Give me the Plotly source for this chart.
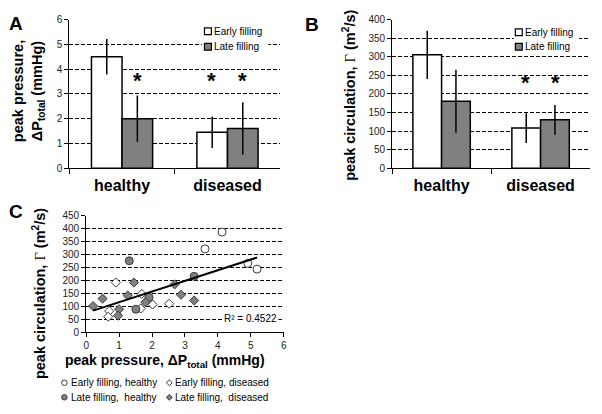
import numpy as np
import plotly.graph_objects as go

W, H = 602, 414

# ---------------- data ----------------
groups = ["healthy", "diseased"]
series_names = ["Early filling", "Late filling"]

pressure_early = [4.5, 1.45]
pressure_early_err = [0.72, 0.64]
pressure_late = [2.0, 1.6]
pressure_late_err = [0.93, 1.06]
pressure_sig = [("healthy", 1, 3.5), ("diseased", 0, 3.5), ("diseased", 1, 3.5)]

circ_early = [305, 108]
circ_early_err = [65, 40]
circ_late = [180, 130]
circ_late_err = [85, 40]
circ_sig = [("diseased", 0, 228), ("diseased", 1, 228)]

early_healthy_x = [4.13, 3.61, 4.91, 5.19]
early_healthy_y = [387, 322, 266, 244]
late_healthy_x = [1.31, 1.51, 1.91, 3.28]
late_healthy_y = [276, 89, 135, 216]
early_diseased_x = [0.70, 0.67, 0.90, 1.69, 1.66, 2.02, 2.52]
early_diseased_y = [82, 60, 192, 148, 92, 107, 110]
late_diseased_x = [0.21, 0.50, 1.00, 0.97, 1.26, 1.45, 1.80, 2.69, 2.88, 3.28]
late_diseased_y = [101, 130, 89, 64, 142, 192, 116, 185, 145, 123]
r2_label = "R² = 0.4522"

scatter_names = ["Early filling, healthy", "Early filling, diseased",
                 "Late filling,  healthy", "Late filling,  diseased"]

# ---------------- helpers ----------------
def px(x):
    return x / W

def py(y):
    return 1 - y / H

FONT = "Liberation Sans, Arial, sans-serif"
GREY = "#808080"
EDGE = "#3a3a3a"
DASH = "4px,2px"

fig = go.Figure()

# ---------------- panel A & B bars ----------------
for (xa, ya, early, eerr, late, lerr) in [
    ("x", "y", pressure_early, pressure_early_err, pressure_late, pressure_late_err),
    ("x2", "y2", circ_early, circ_early_err, circ_late, circ_late_err),
]:
    fig.add_trace(go.Bar(
        x=groups, y=early, name=series_names[0], xaxis=xa, yaxis=ya,
        marker=dict(color="white", line=dict(color="black", width=1.5)),
        error_y=dict(type="data", array=eerr, color="black", thickness=1.5, width=0),
        showlegend=False))
    fig.add_trace(go.Bar(
        x=groups, y=late, name=series_names[1], xaxis=xa, yaxis=ya,
        marker=dict(color=GREY, line=dict(color="black", width=1.5)),
        error_y=dict(type="data", array=lerr, color="black", thickness=1.5, width=0),
        showlegend=False))

# ---------------- panel C scatter ----------------
fig.add_trace(go.Scatter(x=early_healthy_x, y=early_healthy_y, mode="markers",
                         name=scatter_names[0], xaxis="x3", yaxis="y3", showlegend=False,
                         marker=dict(symbol="circle", size=8, color="white",
                                     line=dict(color=EDGE, width=1))))
fig.add_trace(go.Scatter(x=early_diseased_x, y=early_diseased_y, mode="markers",
                         name=scatter_names[1], xaxis="x3", yaxis="y3", showlegend=False,
                         marker=dict(symbol="diamond", size=7, color="white",
                                     line=dict(color=EDGE, width=1))))
fig.add_trace(go.Scatter(x=late_healthy_x, y=late_healthy_y, mode="markers",
                         name=scatter_names[2], xaxis="x3", yaxis="y3", showlegend=False,
                         marker=dict(symbol="circle", size=8, color=GREY,
                                     line=dict(color=EDGE, width=1))))
fig.add_trace(go.Scatter(x=late_diseased_x, y=late_diseased_y, mode="markers",
                         name=scatter_names[3], xaxis="x3", yaxis="y3", showlegend=False,
                         marker=dict(symbol="diamond", size=7, color=GREY,
                                     line=dict(color=EDGE, width=1))))

all_x = np.array(early_healthy_x + early_diseased_x + late_healthy_x + late_diseased_x)
all_y = np.array(early_healthy_y + early_diseased_y + late_healthy_y + late_diseased_y)
slope, intercept = np.polyfit(all_x, all_y, 1)
fx = np.array([all_x.min(), all_x.max()])
fig.add_trace(go.Scatter(x=fx, y=slope * fx + intercept, mode="lines", xaxis="x3", yaxis="y3",
                         line=dict(color="black", width=2), showlegend=False, hoverinfo="skip"))

# ---------------- axes ----------------
yA = [py(167), py(14)]
common_y = dict(showline=True, linecolor="black", linewidth=1, ticks="outside", ticklen=4,
                tickcolor="black", showgrid=True, gridcolor="black", griddash=DASH,
                gridwidth=1, zeroline=False, tickfont=dict(family=FONT, size=10, color="#222"))
common_xcat = dict(type="category", showline=True, linecolor="black", linewidth=1,
                   ticks="outside", ticklen=5, tickcolor="black", tickson="boundaries",
                   showgrid=False, range=[-0.5, 1.5], ticklabelstandoff=3,
                   tickfont=dict(family=FONT, size=16, color="black", weight="bold"))

fig.update_layout(
    width=W, height=H, margin=dict(l=0, r=0, t=0, b=0),
    paper_bgcolor="white", plot_bgcolor="white",
    barmode="group", bargap=0.42, bargroupgap=0,
    showlegend=False,
    xaxis=dict(domain=[px(67), px(280)], anchor="y", **common_xcat),
    yaxis=dict(domain=yA, anchor="x", range=[0, 6], dtick=1, **common_y),
    xaxis2=dict(domain=[px(393), px(593)], anchor="y2", **common_xcat),
    yaxis2=dict(domain=yA, anchor="x2", range=[0, 400], dtick=50, **common_y),
    xaxis3=dict(domain=[px(84), px(283.5)], anchor="y3", range=[0, 6], dtick=1,
                showline=True, linecolor="black", linewidth=1, ticks="outside", ticklen=4,
                tickcolor="black", showgrid=False, zeroline=False,
                tickfont=dict(family=FONT, size=10, color="#222")),
    yaxis3=dict(domain=[py(336), py(216)], anchor="x3", range=[0, 450], dtick=50, **common_y),
)

ann = []
shapes = []

def label(x, y, text, size, bold=False, angle=0, xanchor="center", **kw):
    ann.append(dict(xref="paper", yref="paper", x=px(x), y=py(y), text=text,
                    showarrow=False, textangle=angle, xanchor=xanchor, yanchor="middle",
                    font=dict(family=FONT, size=size, color="black",
                              weight="bold" if bold else "normal"), **kw))

# panel letters
label(13.5, 18, "A", 19, bold=True)
label(312, 19, "B", 19, bold=True)
label(13.5, 212, "C", 19, bold=True)

GAMMA = "<span style='font-family:Liberation Serif,Times New Roman,serif;font-weight:normal'>Γ</span>"
# y titles
label(26, 88, "peak pressure,<br>ΔP<sub>total</sub> (mmHg)", 14.5, bold=True, angle=-90)
label(350, 92, "peak circulation, " + GAMMA + " (m<sup>2</sup>/s)", 14.5, bold=True, angle=-90)
label(37, 296, "peak circulation, " + GAMMA + " (m<sup>2</sup>/s)", 14.5, bold=True, angle=-90)
# x title C
label(164, 366, "peak pressure, ΔP<sub>total</sub> (mmHg)", 14, bold=True)

# significance asterisks
for xa, ya, sig, off in [("x", "y", pressure_sig, 15.5), ("x2", "y2", circ_sig, 14.7)]:
    for grp, idx, yv in sig:
        ann.append(dict(xref=xa, yref=ya, x=grp, y=yv, text="*", showarrow=False,
                        xshift=off if idx == 1 else -off, yshift=1,
                        font=dict(family=FONT, size=22, color="black", weight="bold")))

# bar legends (manual)
def bar_legend(x0, y0, x1, y1, mx, tx, rows):
    shapes.append(dict(type="rect", xref="paper", yref="paper", x0=px(x0), x1=px(x1),
                       y0=py(y1), y1=py(y0), fillcolor="white", line=dict(width=0),
                       layer="above"))
    for (ry, name, col) in rows:
        shapes.append(dict(type="rect", xref="paper", yref="paper",
                           x0=px(mx - 3.5), x1=px(mx + 3.5), y0=py(ry + 3.5), y1=py(ry - 3.5),
                           fillcolor=col, line=dict(color="black", width=1.2), layer="above"))
        label(tx, ry, name, 10, xanchor="left")

bar_legend(201, 18, 268, 50, 207, 211, [(26, series_names[0], "white"), (42, series_names[1], GREY)])
bar_legend(516, 18, 582, 50, 521, 525, [(27, series_names[0], "white"), (42, series_names[1], GREY)])

# R² label
ann.append(dict(xref="paper", yref="paper", x=px(279), y=py(322), text=r2_label,
                showarrow=False, xanchor="right", yanchor="middle", bgcolor="white",
                borderpad=1, font=dict(family=FONT, size=10, color="black")))

# scatter legend (manual)
def circle_shape(cx, cy, r, fill):
    shapes.append(dict(type="circle", xref="paper", yref="paper",
                       x0=px(cx - r), x1=px(cx + r), y0=py(cy + r), y1=py(cy - r),
                       fillcolor=fill, line=dict(color=EDGE, width=1)))

def diamond_shape(cx, cy, r, fill):
    path = "M {} {} L {} {} L {} {} L {} {} Z".format(
        px(cx - r), py(cy), px(cx), py(cy - r), px(cx + r), py(cy), px(cx), py(cy + r))
    shapes.append(dict(type="path", xref="paper", yref="paper", path=path,
                       fillcolor=fill, line=dict(color=EDGE, width=1)))

circle_shape(62, 388, 2.8, "white")
label(67, 388, scatter_names[0], 10, xanchor="left")
diamond_shape(168, 388, 3, "white")
label(172, 388, scatter_names[1], 10, xanchor="left")
circle_shape(62, 403, 2.8, GREY)
label(67, 403, scatter_names[2], 10, xanchor="left")
diamond_shape(168, 403, 3, GREY)
label(172, 403, scatter_names[3], 10, xanchor="left")

fig.update_layout(annotations=ann, shapes=shapes)
fig.write_html("out.html", config={"displayModeBar": False},
               post_script="document.body.style.margin='0';document.body.style.overflow='hidden';")
